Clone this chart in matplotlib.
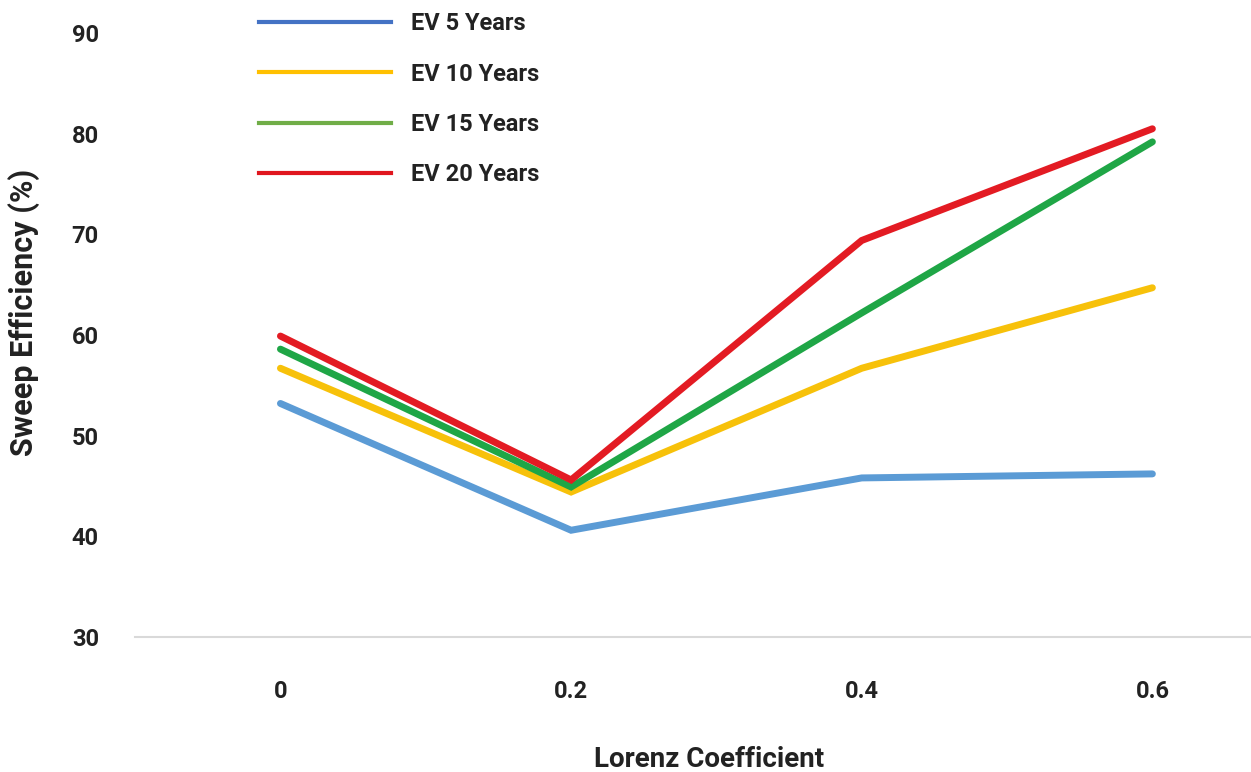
import matplotlib.pyplot as plt
from matplotlib.lines import Line2D

plt.rcParams["font.family"] = ["Roboto", "DejaVu Sans"]
plt.rcParams["font.weight"] = "bold"

lorenz = [0, 0.2, 0.4, 0.6]
ev5 = [53.2, 40.6, 45.8, 46.2]
ev10 = [56.7, 44.4, 56.7, 64.7]
ev15 = [58.6, 44.9, 62.2, 79.2]
ev20 = [59.9, 45.6, 69.4, 80.5]
labels = ["EV 5 Years", "EV 10 Years", "EV 15 Years", "EV 20 Years"]
line_colors = ["#5B9BD5", "#F7C10A", "#1FA646", "#E31B23"]
legend_colors = ["#4472C4", "#FFC000", "#70AD47", "#E0161E"]

fig = plt.figure(figsize=(12.51, 7.72), dpi=100)
ax = fig.add_axes([0.108, 0.175, 0.891, 0.782])

for ys, c in zip([ev5, ev10, ev15, ev20], line_colors):
    ax.plot(lorenz, ys, color=c, lw=5, solid_capstyle="round", solid_joinstyle="miter")

ax.set_xlim(-0.1, 0.667)
ax.set_ylim(30, 90)
ax.set_xticks(lorenz, ["0", "0.2", "0.4", "0.6"])
ax.set_yticks([30, 40, 50, 60, 70, 80, 90])
ax.tick_params(length=0, labelsize=17, colors="#222222")
ax.tick_params(axis="y", pad=26)
ax.tick_params(axis="x", pad=31)
for s in ["top", "right", "left"]:
    ax.spines[s].set_visible(False)
ax.spines["bottom"].set_color("#d9d9d9")
ax.spines["bottom"].set_linewidth(1.5)

ax.set_xlabel("Lorenz Coefficient", fontsize=20, fontweight="bold", color="#222222", labelpad=31)
ax.set_ylabel("Sweep Efficiency (%)", fontsize=22, fontweight="bold", color="#222222", labelpad=23)
ax.xaxis.label.set_x(0.515)
ax.yaxis.label.set_y(0.538)

handles = [Line2D([], [], color=c, lw=3) for c in legend_colors]
leg = ax.legend(handles, labels, loc="upper left", bbox_to_anchor=(0.092, 1.07),
                frameon=False, fontsize=17, handlelength=5.6, handletextpad=0.85,
                labelspacing=1.16)
for t in leg.get_texts():
    t.set_color("#222222")

fig.savefig("out.png", dpi=100)
